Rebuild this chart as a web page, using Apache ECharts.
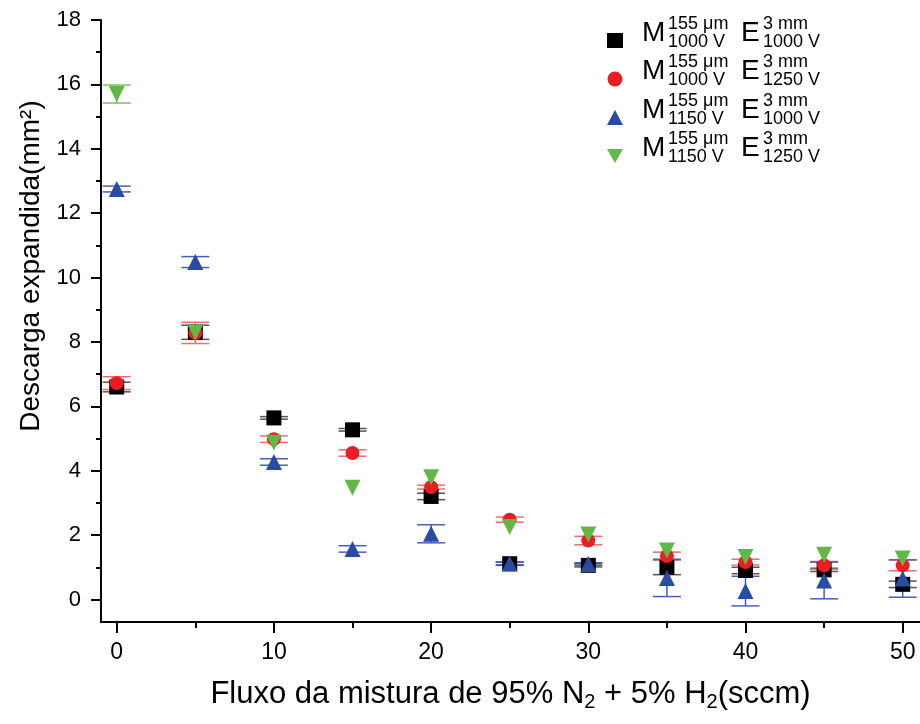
<!DOCTYPE html>
<html>
<head>
<meta charset="utf-8">
<script src="https://cdn.jsdelivr.net/npm/echarts@6/dist/echarts.min.js"></script>
<style>
  html, body { margin: 0; padding: 0; background: #fff; }
  #chart { width: 920px; height: 724px; }
</style>
</head>
<body>
<div id="chart"></div>
<script>
// flow values (sccm)
const fluxo = [0, 5, 10, 15, 20, 25, 30, 35, 40, 45, 50];

// M 1000 V / E 1000 V
const m1000e1000 = [6.6, 8.3, 5.64, 5.27, 3.2, 1.11, 1.06, 1.0, 0.9, 0.92, 0.47];
const m1000e1000Err = [0.15, 0.22, 0.04, 0.04, 0.1, 0.05, 0.05, 0.23, 0.1, 0.05, 0.1];
// M 1000 V / E 1250 V
const m1000e1250 = [6.72, 8.28, 4.98, 4.55, 3.49, 2.48, 1.83, 1.35, 1.16, 1.06, 1.06];
const m1000e1250Err = [0.2, 0.33, 0.1, 0.1, 0.06, 0.08, 0.13, 0.12, 0.09, 0.12, 0.17];
// M 1150 V / E 1000 V
const m1150e1000 = [12.75, 10.48, 4.27, 1.57, 2.04, 1.12, 1.1, 0.67, 0.26, 0.59, 0.65];
const m1150e1000Err = [0.09, 0.17, 0.1, 0.1, 0.28, 0.04, 0.04, 0.58, 0.46, 0.57, 0.58];
// M 1150 V / E 1250 V
const m1150e1250 = [15.7, 8.29, 4.87, 3.47, 3.8, 2.25, 2.02, 1.52, 1.32, 1.39, 1.27];
const m1150e1250Err = [0.28, 0, 0, 0, 0, 0, 0, 0, 0, 0, 0];

const xMajor = [0, 10, 20, 30, 40, 50];
const xMinor = [5, 15, 25, 35, 45];
const yMajor = [0, 2, 4, 6, 8, 10, 12, 14, 16, 18];
const yMinor = [1, 3, 5, 7, 9, 11, 13, 15, 17];

// legend text pieces: [M subscript, E subscript]
const legendRows = [
  ['1000 V', '1000 V'],
  ['1000 V', '1250 V'],
  ['1150 V', '1000 V'],
  ['1150 V', '1250 V']
];
const seriesNames = ['M1000E1000', 'M1000E1250', 'M1150E1000', 'M1150E1250'];

const FONT = '"Liberation Sans", Arial, sans-serif';
const chart = echarts.init(document.getElementById('chart'));

function scatter(name, ys, symbol, size, color, rotate) {
  return {
    type: 'scatter',
    name: name,
    data: fluxo.map((x, i) => [x, ys[i]]),
    symbol: symbol,
    symbolSize: size,
    symbolRotate: rotate || 0,
    itemStyle: { color: color, opacity: 1 },
    emphasis: { disabled: true },
    z: 3
  };
}

function errorBars(ys, errs, color) {
  return {
    type: 'custom',
    data: fluxo.map((x, i) => [x, ys[i] - errs[i], ys[i] + errs[i], errs[i]]),
    encode: { x: 0, y: [1, 2] },
    silent: true,
    z: 3,
    renderItem: function (params, api) {
      if (!api.value(3)) return null;
      const x = api.value(0);
      const lo = api.coord([x, api.value(1)]);
      const hi = api.coord([x, api.value(2)]);
      const hw = 14;
      const st = { stroke: color, lineWidth: 1.5 };
      return {
        type: 'group',
        children: [
          { type: 'line', shape: { x1: lo[0], y1: lo[1], x2: hi[0], y2: hi[1] }, style: st },
          { type: 'line', shape: { x1: lo[0] - hw, y1: lo[1], x2: lo[0] + hw, y2: lo[1] }, style: st },
          { type: 'line', shape: { x1: hi[0] - hw, y1: hi[1], x2: hi[0] + hw, y2: hi[1] }, style: st }
        ]
      };
    }
  };
}

// legend labels drawn as text with stacked super/subscripts
const legendText = [];
legendRows.forEach((row, i) => {
  const dy = i * 38.5;
  const big = { font: '28px ' + FONT, fill: '#000', textVerticalAlign: 'middle' };
  const small = { font: '18px ' + FONT, fill: '#000', textVerticalAlign: 'middle' };
  legendText.push(
    { type: 'text', style: Object.assign({ text: 'M', x: 642, y: 33 + dy }, big) },
    { type: 'text', style: Object.assign({ text: '155 μm', x: 668, y: 24 + dy }, small) },
    { type: 'text', style: Object.assign({ text: row[0], x: 668, y: 42 + dy }, small) },
    { type: 'text', style: Object.assign({ text: 'E', x: 741, y: 33 + dy }, big) },
    { type: 'text', style: Object.assign({ text: '3 mm', x: 763, y: 24 + dy }, small) },
    { type: 'text', style: Object.assign({ text: row[1], x: 763, y: 42 + dy }, small) }
  );
});

const axisLineStyle = { color: '#000', width: 2 };

const option = {
  backgroundColor: '#fff',
  animation: false,
  textStyle: { fontFamily: FONT },
  grid: { left: 101, right: 0, top: 20, bottom: 102 },
  legend: {
    data: [
      { name: seriesNames[0] },
      { name: seriesNames[1] },
      { name: seriesNames[2] },
      { name: seriesNames[3], icon: 'path://M0,0 L16,0 L8,14 Z' }
    ],
    orient: 'vertical',
    left: 602,
    top: 28,
    itemWidth: 16,
    itemHeight: 15,
    itemGap: 23.5,
    formatter: function () { return ''; },
    selectedMode: false
  },
  xAxis: [
    {
      type: 'value', min: -1, max: 51.1,
      name: 'Fluxo da mistura de 95% N{sub|2} + 5% H{sub|2}(sccm)',
      nameLocation: 'middle',
      nameGap: 55,
      nameTextStyle: {
        fontSize: 31, color: '#000', fontFamily: FONT,
        rich: { sub: { fontSize: 20, verticalAlign: 'bottom', padding: [15, 0, 0, 0], fontFamily: FONT, color: '#000' } }
      },
      axisLine: { onZero: false, lineStyle: axisLineStyle },
      axisTick: { customValues: xMajor, length: 11, lineStyle: axisLineStyle },
      axisLabel: { customValues: xMajor, fontSize: 23, color: '#000', margin: 19, fontFamily: FONT },
      splitLine: { show: false }
    },
    {
      type: 'value', min: -1, max: 51.1, position: 'bottom',
      axisLine: { show: false, onZero: false },
      axisTick: { customValues: xMinor, length: 6, lineStyle: axisLineStyle },
      axisLabel: { show: false },
      splitLine: { show: false }
    }
  ],
  yAxis: [
    {
      type: 'value', min: -0.7, max: 18,
      axisLine: { show: true, onZero: false, lineStyle: axisLineStyle },
      axisTick: { show: true, customValues: yMajor, length: 10, lineStyle: axisLineStyle },
      axisLabel: { customValues: yMajor, fontSize: 22, color: '#000', margin: 20, fontFamily: FONT },
      splitLine: { show: false }
    },
    {
      type: 'value', min: -0.7, max: 18, position: 'left',
      axisLine: { show: false, onZero: false },
      axisTick: { show: true, customValues: yMinor, length: 5, lineStyle: axisLineStyle },
      axisLabel: { show: false },
      splitLine: { show: false }
    }
  ],
  graphic: [
    {
      type: 'text', x: 31, y: 266, rotation: Math.PI / 2,
      style: {
        text: 'Descarga expandida(mm²)', font: '28px ' + FONT, fill: '#000',
        textAlign: 'center', textVerticalAlign: 'middle'
      }
    }
  ].concat(legendText),
  series: [
    scatter(seriesNames[0], m1000e1000, 'rect', 15, '#000000'),
    errorBars(m1000e1000, m1000e1000Err, '#555555'),
    scatter(seriesNames[1], m1000e1250, 'circle', 14, '#ec1c24'),
    errorBars(m1000e1250, m1000e1250Err, '#f06a6f'),
    scatter(seriesNames[2], m1150e1000, 'triangle', 16, '#2a4ba3'),
    errorBars(m1150e1000, m1150e1000Err, '#4a5fb5'),
    scatter(seriesNames[3], m1150e1250, 'triangle', 16, '#62b846', 180),
    errorBars(m1150e1250, m1150e1250Err, '#78c25e')
  ]
};

chart.setOption(option);
</script>
</body>
</html>
